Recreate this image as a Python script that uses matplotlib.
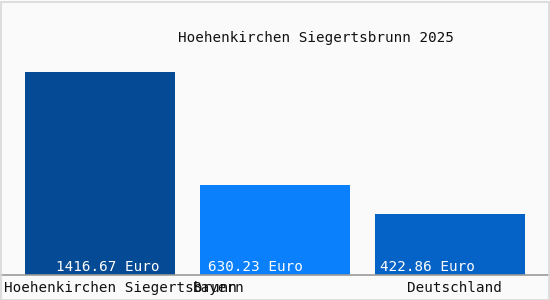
import matplotlib.pyplot as plt
from matplotlib.patches import Rectangle

# data
regions = ["Hoehenkirchen Siegertsbrunn", "Bayern", "Deutschland"]
values = [1416.67, 630.23, 422.86]
value_labels = ["1416.67 Euro", "630.23 Euro", "422.86 Euro"]
colors = ["#044a94", "#0a80fc", "#0563c8"]
title = "Hoehenkirchen Siegertsbrunn 2025"

W, H = 550, 300
fig = plt.figure(figsize=(W / 100, H / 100), dpi=100)
fig.patch.set_facecolor("#fafafa")
fig.patches.append(Rectangle((0.5 / W, 0.5 / H), 1 - 2 / W, 1 - 2 / H,
                             transform=fig.transFigure, fill=False,
                             edgecolor="#d8d8d8", lw=1.2))

# axes from pixel 25 (top) to 275 (bottom), full width
ax = fig.add_axes([0, 25 / H, 1, 250 / H])
ax.set_facecolor("none")
x = list(range(len(values)))
ax.bar(x, values, width=150 / 175, color=colors)
ax.set_xlim(-100 / 175, 450 / 175)
ax.set_ylim(0, max(values) / 0.812)
for s in ax.spines.values():
    s.set_visible(False)
ax.set_xticks([])
ax.set_yticks([])
ax.axhline(0, color="#9a9a9a", lw=1.2, clip_on=False)

mono = "DejaVu Sans Mono"
fs = 10.3
fig.text(316 / W, 1 - 38 / H, title, ha="center", va="center",
         family=mono, fontsize=fs, color="#111111")

# value labels inside bars (offset from bar centre, in px)
val_off = [8, -20, -23]
for i, (lab, off) in enumerate(zip(value_labels, val_off)):
    ax.annotate(lab, (i, 0), xytext=(off, 1), textcoords="offset pixels",
                ha="center", va="bottom", family=mono, fontsize=fs,
                color="white")

# category labels below axis
cat_x = [4, 193, 502]
cat_ha = ["left", "left", "right"]
for lab, px, ha in zip(regions, cat_x, cat_ha):
    fig.text(px / W, 1 - 288 / H, lab, ha=ha, va="center",
             family=mono, fontsize=fs, color="#111111")

fig.savefig("out.png", dpi=100, facecolor=fig.get_facecolor())
